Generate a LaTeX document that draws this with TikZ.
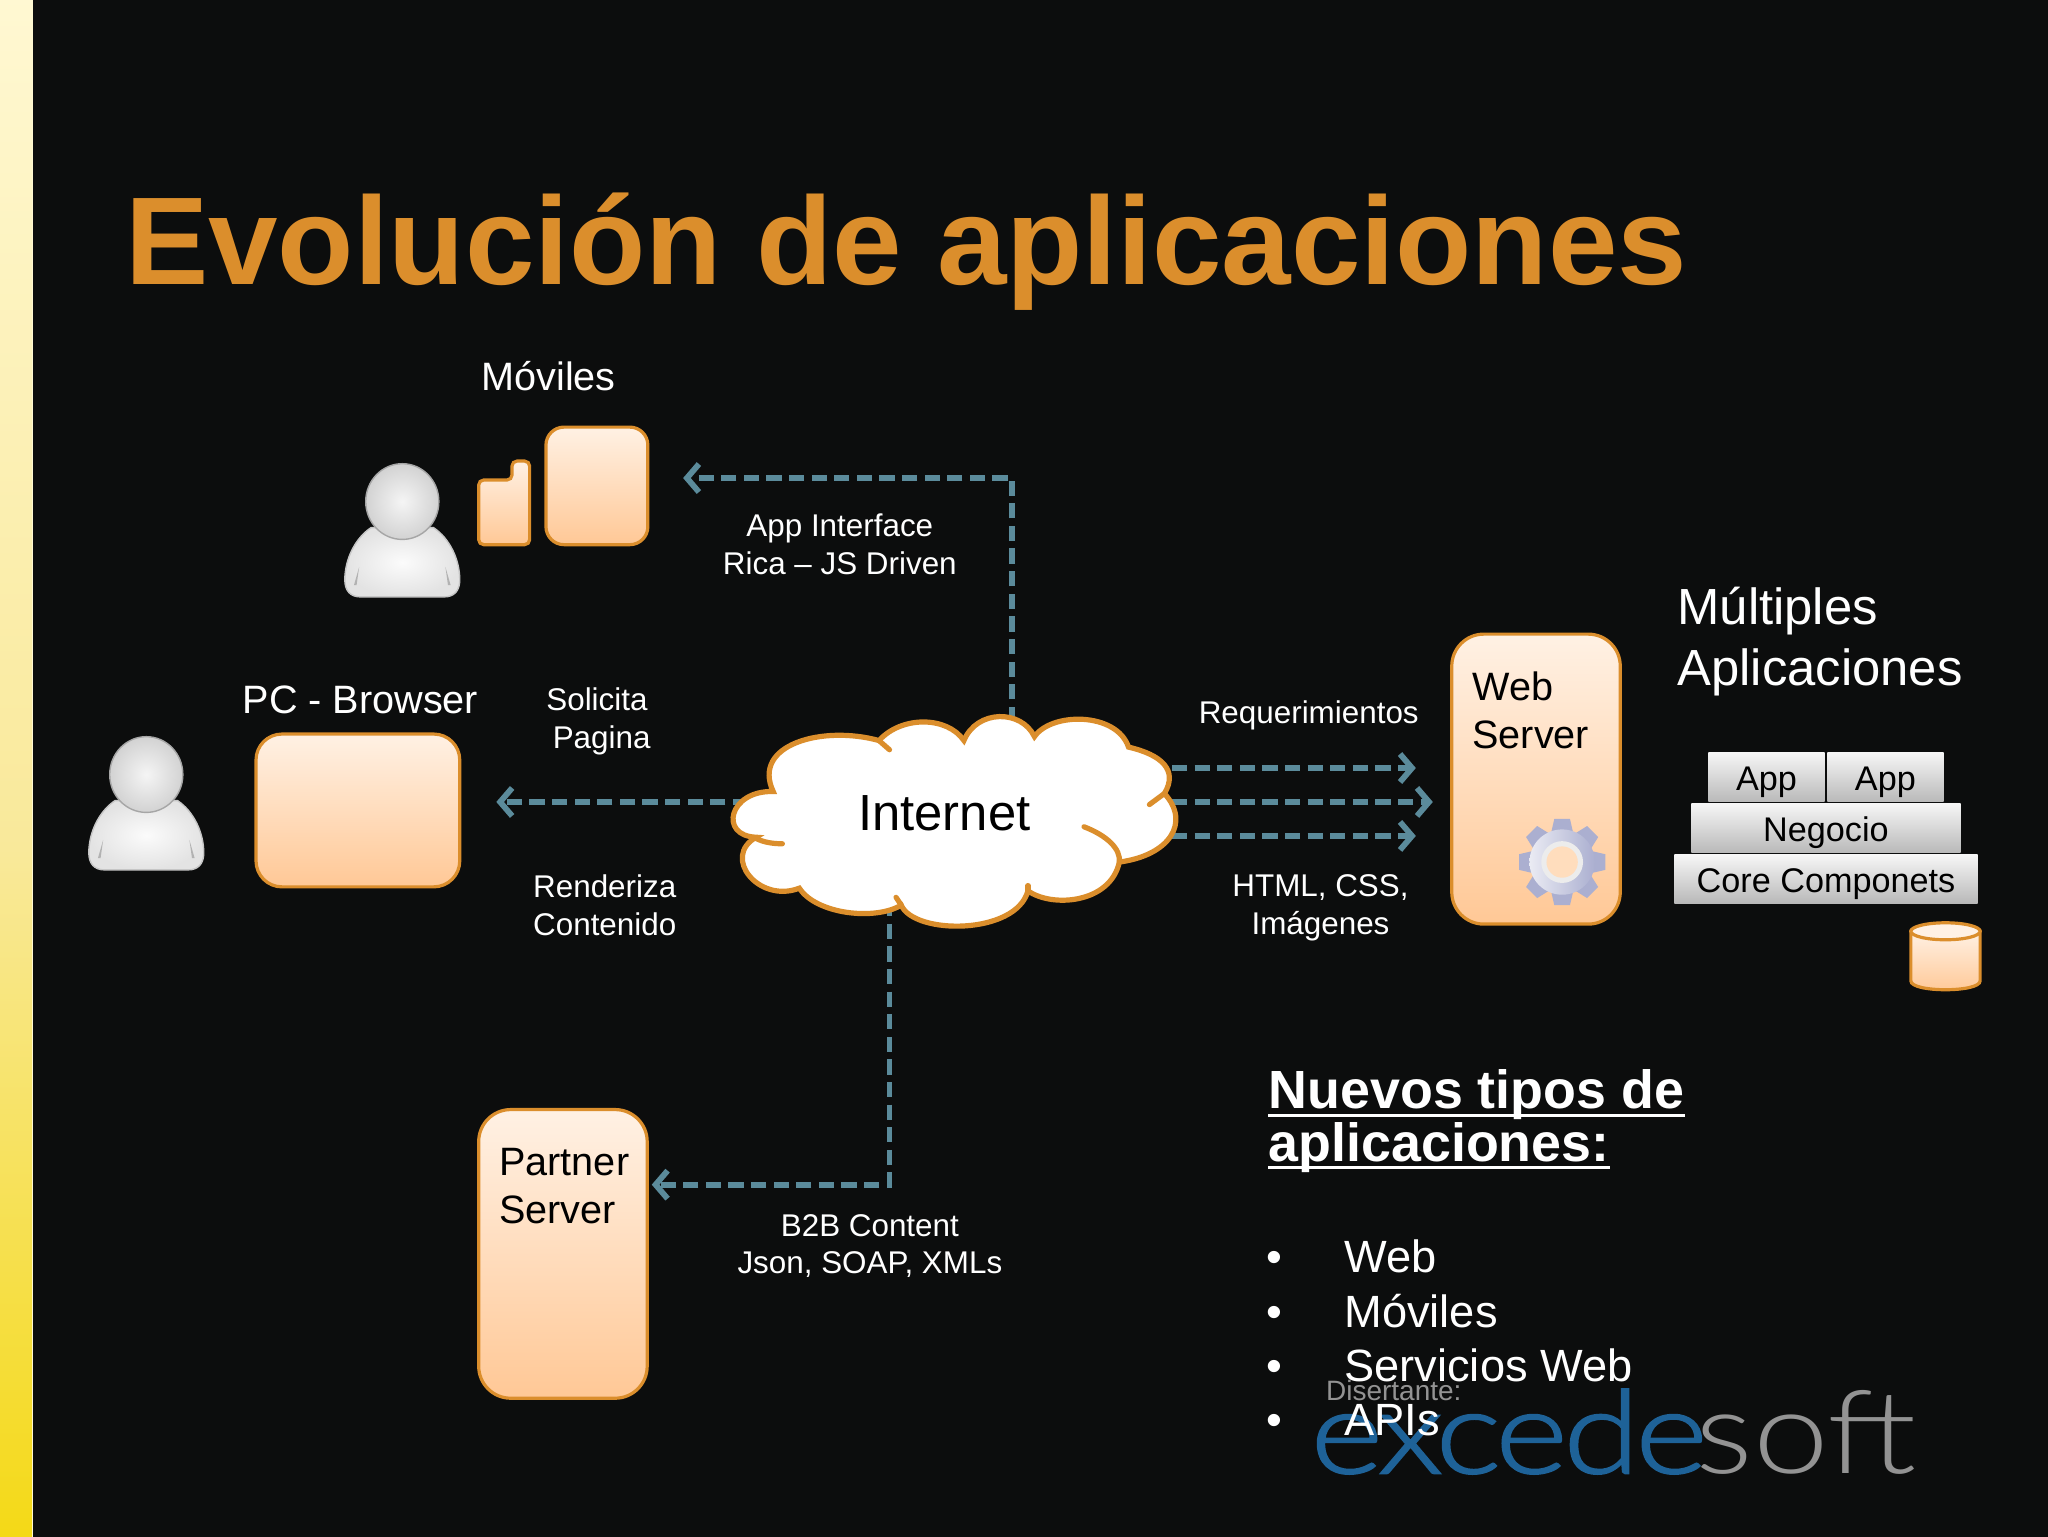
\documentclass[tikz,border=0pt]{standalone}
\usepackage{fontspec}
\setmainfont{Liberation Sans}
\newfontfamily\logofont[FakeStretch=1.17]{Lato Light}
\newfontfamily\logobold[FakeStretch=1.2,FakeBold=1.6]{Lato Light}
\usetikzlibrary{calc,arrows.meta}
\definecolor{bgdark}{HTML}{0C0D0D}
\definecolor{ttlorange}{HTML}{DB8E2C}
\definecolor{lnkteal}{HTML}{5B8B9B}
\definecolor{boxtop}{HTML}{FFF1E4}
\definecolor{boxbot}{HTML}{FFC896}
\definecolor{logoblue}{HTML}{1E6298}
\definecolor{stripa}{HTML}{FFF8D2}
\definecolor{stripb}{HTML}{F9E99A}
\definecolor{stripc}{HTML}{F4D916}
\definecolor{gearblue}{HTML}{ABAFD0}
\def\dunit{0.65306pt}
\def\fsmall{\fontsize{15.7}{18.9}\selectfont}
\def\fmid{\fontsize{19.8}{24.2}\selectfont}
\def\fbig{\fontsize{25.4}{30.7}\selectfont}
\tikzset{
  link_ln/.style={dashed, dash pattern=on 7.6pt off 3.7pt, color=lnkteal, line width=2.9pt, -{Straight Barb[length=6pt,width=14pt]}},
  cloud_ln/.style={color=ttlorange, line width=2.6pt, line cap=round},
  peach_bx/.style={draw=ttlorange, line width=1.6pt, top color=boxtop, bottom color=boxbot, inner sep=0pt, outer sep=0pt},
  stack_bx/.style={top color=white!93!gray, bottom color=gray!55!white, inner sep=0pt, outer sep=0pt, text=black, text height=14pt, text depth=1pt, font=\fontsize{17.1}{20}\selectfont},
  txt_lb/.style={text=white, inner sep=0pt, align=center},
  user_sk/.style={draw=gray!45!white, line width=0.7pt}
}
\def\roundbox(#1,#2,#3,#4,#5,#6){
  \node[peach_bx, rounded corners=#6, minimum width=#4*\dunit, minimum height=#5*\dunit] (#1) at (#2,#3) {};
}
\def\stackbox(#1,#2,#3,#4,#5,#6){
  \node[stack_bx, minimum width=#4*\dunit, minimum height=#5*\dunit] (#1) at (#2,#3) {#6};
}
\def\userfig(#1,#2){
  \begin{scope}[shift={(#1,#2)}]
  \shade[user_sk, inner color=white!97!gray, outer color=white!78!gray] (-24,20) .. controls (-36,28) and (-44,44) .. (-44,60) .. controls (-44,68) and (-40,73) .. (-32,73) -- (32,73) .. controls (40,73) and (44,68) .. (44,60) .. controls (44,44) and (36,28) .. (24,20) -- cycle;
  \fill[gray!60!white] (-33,50) -- (-37,64) -- (-35,64) -- cycle;
  \fill[gray!60!white] (33,50) -- (37,64) -- (35,64) -- cycle;
  \shade[draw=gray!70!white, line width=0.7pt, inner color=white!92!gray, outer color=white!65!gray] (0,0) ellipse (28 and 29);
  \end{scope}
}
\begin{document}
\begin{tikzpicture}[x=\dunit, y=-\dunit]
\useasboundingbox (0,0) rectangle (1568,1176);
\fill[bgdark] (-2,-2) rectangle (1572,1180);
\shade[top color=stripa, bottom color=stripb] (-2,-2) rectangle (25,650);
\shade[top color=stripb, bottom color=stripc] (-2,650) rectangle (25,1180);
\draw[stripa, line width=0.5pt] (25,-2) -- (25,1180);
\node[anchor=base west, inner sep=0pt, text=ttlorange, font=\fontsize{62.45}{70}\selectfont\bfseries] (ttl_lb) at (95.5,218) {Evolución de aplicaciones};
\userfig(308,384)
\userfig(112,593)
\roundbox(tab_bx,457,372,78,90,9pt)
\filldraw[draw=ttlorange, line width=1.6pt, top color=boxtop, bottom color=boxbot, rounded corners=2.5pt] (366.5,417) -- (366.5,367.5) -- (392,367.5) -- (392,353) -- (405.5,353) -- (405.5,417) -- cycle;
\roundbox(pc_bx,274,620.5,156,117,13pt)
\roundbox(web_bx,1176,596.5,129,222,16pt)
\roundbox(par_bx,431,960,129,221,16pt)
\node[txt_lb, font=\fmid] (mov_lb) at (420,288) {Móviles};
\node[txt_lb, font=\fmid] (pcb_lb) at (276,536) {PC - Browser};
\node[txt_lb, anchor=west, align=left, text=black, font=\fmid] (web_lb) at (1127,544) {Web\\Server};
\node[txt_lb, anchor=west, align=left, text=black, font=\fmid] (par_lb) at (382,908) {Partner\\Server};
\node[txt_lb, font=\fsmall] (api_lb) at (643,417) {App Interface\\Rica – JS Driven};
\node[txt_lb, anchor=west, align=left, font=\fsmall] (sol_lb) at (418,552) {Solicita\\\hspace*{3.2pt}Pagina};
\node[txt_lb, font=\fsmall] (ren_lb) at (463,693) {Renderiza\\Contenido};
\node[txt_lb, font=\fsmall] (req_lb) at (1002,548) {Requerimientos};
\node[txt_lb, font=\fsmall] (htm_lb) at (1011,695) {HTML, CSS,\\Imágenes};
\node[txt_lb, font=\fsmall] (b2b_lb) at (666,954) {B2B Content\\Json, SOAP, XMLs};
\node[txt_lb, anchor=west, align=left, font=\fbig] (mul_lb) at (1284,491) {Múltiples\\Aplicaciones};
\coordinate (net_up) at (775,570);
\coordinate (net_lf) at (590,614);
\coordinate (net_dn) at (681,690);
\coordinate (net_ra) at (880,588);
\coordinate (net_rb) at (880,614);
\coordinate (net_rc) at (880,640);
\coordinate (tab_tp) at (523,366);
\coordinate (pc_tp) at (380,614);
\coordinate (par_tp) at (499,907);
\coordinate (web_ta) at (1084,588);
\coordinate (web_tb) at (1097,614);
\coordinate (web_tc) at (1084,640);
\draw[link_ln] (net_up) |- (tab_tp);
\draw[link_ln] (net_lf) -- (pc_tp);
\draw[link_ln] (net_dn) |- (par_tp);
\draw[link_ln] (net_ra) -- (web_ta);
\draw[link_ln] (net_rb) -- (web_tb);
\draw[link_ln] (net_rc) -- (web_tc);
\filldraw[cloud_ln, fill=white] (592,606) .. controls (558,605) and (550,640) .. (579,641) .. controls (552,656) and (581,692) .. (612,680) .. controls (625,700) and (670,705) .. (690,693) .. controls (700,716) and (778,716) .. (787,682) .. controls (805,695) and (850,692) .. (857,660) .. controls (895,655) and (912,630) .. (891.5,607.5) .. controls (902,590) and (890,578) .. (864,572) .. controls (855,545) and (805,545) .. (792,564) .. controls (782,543) and (748,543) .. (738,567) .. controls (725,548) and (690,548) .. (673,567) .. controls (630,555) and (575,570) .. (592,606) -- cycle;
\draw[cloud_ln] (673,567) -- (681,574);
\draw[cloud_ln] (579,642) .. controls (585,645) and (592,646) .. (599,646);
\draw[cloud_ln] (686,687) -- (690,693);
\draw[cloud_ln] (787,678) -- (787,682);
\draw[cloud_ln] (830,633) .. controls (848,640) and (858,650) .. (857,660);
\draw[cloud_ln] (880,616) -- (891.5,607.5);
\node[txt_lb, text=black, font=\fbig] (net_lb) at (723,623) {Internet};
\foreach \ang in {0,45,...,315} {
  \fill[gearblue, shift={(1196,660)}, rotate=\ang] (-6,-33) -- (6,-33) -- (9,-20) -- (-9,-20) -- cycle;
}
\shade[left color=white!75!gearblue, right color=gearblue] (1196,660) circle (25);
\fill[white!85!gray] (1196,660) circle (16);
\fill[boxtop!50!boxbot] (1196,660) circle (12);
\stackbox(app_a,1352.5,595,89,38,App)
\stackbox(app_b,1443.5,595,89,38,App)
\stackbox(neg_bx,1398,634,206,38,Negocio)
\stackbox(cor_bx,1398,673,232,37,Core Componets)
\filldraw[draw=ttlorange, line width=1.6pt, top color=boxtop, bottom color=boxbot] (1463,713) -- (1463,751) .. controls (1463,760) and (1516,760) .. (1516,751) -- (1516,713) -- cycle;
\filldraw[draw=ttlorange, line width=1.6pt, fill=boxtop] (1489.5,713) ellipse (26.5 and 6.5);
\node[anchor=base west, inner sep=0pt, text=logoblue, font=\logobold\fontsize{58}{70}\selectfont] (exc_lb) at (1003,1128) {\addfontfeature{LetterSpace=-4}excede};
\node[anchor=base east, inner sep=0pt, text=gray!85!white, font=\logofont\fontsize{58}{70}\selectfont] (sft_lb) at (1468,1128) {soft};
\node[anchor=base west, inner sep=0pt, text=gray!85!white, font=\fontsize{14}{17}\selectfont] (dis_lb) at (1015,1072) {Disertante:};
\node[anchor=base west, inner sep=0pt, text=white, font=\fontsize{26.9}{30}\selectfont\bfseries] (nvo_lb) at (971,849) {Nuevos tipos de};
\node[anchor=base west, inner sep=0pt, text=white, font=\fontsize{26.9}{30}\selectfont\bfseries] (apl_lb) at (971,889) {aplicaciones:};
\draw[white, line width=1.7pt] ($(nvo_lb.base west)+(0,5)$) -- ($(nvo_lb.base east)+(0,5)$);
\draw[white, line width=1.7pt] ($(apl_lb.base west)+(0,5)$) -- ($(apl_lb.base east)+(0,5)$);
\foreach \yy/\item in {974/Web,1016/Móviles,1058/Servicios Web,1099/APIs} {
  \node[anchor=base, inner sep=0pt, text=white, font=\fontsize{22.6}{26}\selectfont] at (976,\yy) {•};
  \node[anchor=base west, inner sep=0pt, text=white, font=\fontsize{22.6}{26}\selectfont] at (1029,\yy) {\item};
}
\end{tikzpicture}
\end{document}
